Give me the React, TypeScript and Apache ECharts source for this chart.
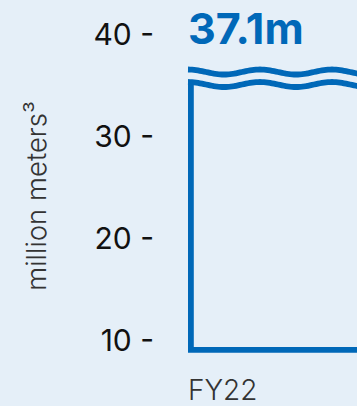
import React, { useEffect, useRef } from "react";
import * as echarts from "echarts";

const categories = ["FY22"];
const values = [37.1];
const valueLabels = ["37.1m"];
const yTicks = [10, 20, 30, 40];
const yMin = 9;
const yMax = 40;
const yTitle = "million meters³";

const BLUE = "#0068b8";
const BG = "#e5eff8";

export default function App() {
  const ref = useRef<HTMLDivElement>(null);
  useEffect(() => {
    document.body.style.margin = "0";
    document.body.style.background = BG;
    const chart = echarts.init(ref.current!, null, { renderer: "svg" });
    const lw = 5.8;
    const renderItem = (params: any, api: any) => {
      const idx = api.value(0);
      const v = api.value(1);
      const [cx, cy] = api.coord([idx, v]);
      const bandW = api.size([1, 0])[0];
      const left = cx - bandW / 2;
      const right = cx + bandW / 2 + 10;
      const by = api.coord([idx, yMin])[1];
      const lx = left + lw / 2;
      const wave = (c: number) => {
        const pts: number[][] = [];
        for (let x = lx - lw / 2; x <= right; x += 2) {
          pts.push([x, c - 2.5 * Math.cos((2 * Math.PI * (x - left)) / 72)]);
        }
        return pts;
      };
      const w1 = cy + 8.3;
      const w2 = cy + 20.8;
      const topLeftY = w2 - 2.5;
      return {
        type: "group",
        children: [
          {
            type: "polyline",
            shape: { points: wave(w1) },
            style: { stroke: BLUE, lineWidth: lw, fill: null },
          },
          {
            type: "polyline",
            shape: { points: wave(w2) },
            style: { stroke: BLUE, lineWidth: lw, fill: null },
          },
          {
            type: "polyline",
            shape: {
              points: [
                [lx, topLeftY],
                [lx, by],
                [right, by],
              ],
            },
            style: { stroke: BLUE, lineWidth: lw, fill: null, lineJoin: "miter" },
          },
          {
            type: "text",
            x: left,
            y: cy - 36,
            style: {
              text: valueLabels[params.dataIndex],
              fill: BLUE,
              fontSize: 43,
              lineHeight: 40,
              fontWeight: "bold",
              fontFamily: "Inter",
              align: "left",
              verticalAlign: "middle",
            },
          },
          {
            type: "text",
            x: left,
            y: by + 40,
            style: {
              text: categories[idx],
              fill: "#333",
              fontSize: 28,
              lineHeight: 24,
              fontWeight: 300,
              fontFamily: "Inter",
              align: "left",
              verticalAlign: "middle",
            },
          },
        ],
      };
    };
    chart.setOption({
      animation: false,
      backgroundColor: BG,
      grid: { left: 188, right: 0, top: 34.2, bottom: 56.2 },
      xAxis: {
        type: "category",
        data: categories,
        axisLine: { show: false },
        axisTick: { show: false },
        axisLabel: { show: false },
        splitLine: { show: false },
      },
      yAxis: {
        type: "value",
        min: yMin,
        max: yMax,
        name: yTitle,
        nameLocation: "middle",
        nameRotate: 90,
        nameGap: 138,
        nameTextStyle: {
          fontSize: 27.5,
          color: "#333",
          fontWeight: 300,
          fontFamily: "Inter",
          padding: [0, 8, 0, 0],
        },
        axisLine: { show: false },
        axisTick: { show: false },
        splitLine: { show: false },
        axisLabel: {
          customValues: yTicks,
          formatter: "{value} -",
          margin: 34,
          fontSize: 30,
          color: "#111",
          fontFamily: "Inter",
          fontWeight: 400,
        },
      },
      series: [
        {
          type: "custom",
          clip: false,
          renderItem,
          encode: { x: 0, y: 1 },
          data: categories.map((c, i) => [i, values[i]]),
        },
      ],
    });
    return () => chart.dispose();
  }, []);
  return (
    <div
      ref={ref}
      style={{ position: "absolute", left: 0, top: 0, width: 357, height: 406 }}
    />
  );
}
